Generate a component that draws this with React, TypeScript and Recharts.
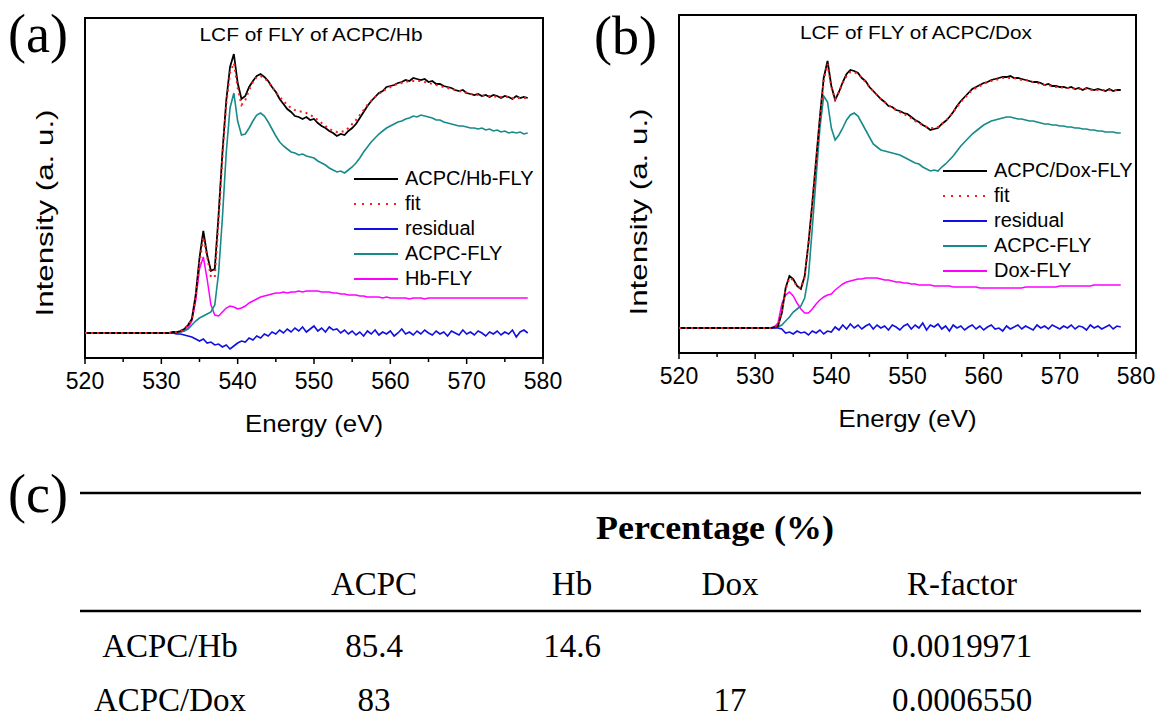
import React from "react";
import { LineChart, Line, XAxis, YAxis, ReferenceArea, Legend } from "recharts";

// photon energy grid (eV), shared by every trace
const energy = [
  520, 522, 524, 526, 528, 530,
  530.5, 531, 531.5, 532, 532.5, 533, 533.5, 534, 534.5, 535,
  535.5, 536, 536.5, 537, 537.5, 538, 538.5, 539, 539.5, 540,
  540.5, 541, 541.5, 542, 542.5, 543, 543.5, 544, 544.5, 545,
  545.5, 546, 546.5, 547, 547.5, 548, 548.5, 549, 549.5, 550,
  550.5, 551, 551.5, 552, 552.5, 553, 553.5, 554, 554.5, 555,
  555.5, 556, 556.5, 557, 557.5, 558, 558.5, 559, 559.5, 560,
  560.5, 561, 561.5, 562, 562.5, 563, 563.5, 564, 564.5, 565,
  565.5, 566, 566.5, 567, 567.5, 568, 568.5, 569, 569.5, 570,
  570.5, 571, 571.5, 572, 572.5, 573, 573.5, 574, 574.5, 575,
  575.5, 576, 576.5, 577, 577.5, 578,
];

// (a) ACPC/Hb
const hbExp = [
  0, 0, 0, 0, 0, 0,
  0, 0, 1, 1, 2, 4, 8, 14, 38, 75,
  102, 78, 62, 64, 118, 180, 232, 266, 279, 250,
  234, 237, 246, 252, 257, 259, 256, 252, 246, 241,
  234, 229, 224, 221, 217, 216, 214, 216, 213, 214,
  210, 207, 205, 202, 200, 197, 199, 198, 202, 205,
  209, 215, 221, 227, 232, 236, 240, 242, 246, 247,
  248, 250, 251, 253, 252, 255, 254, 253, 254, 251,
  252, 249, 249, 247, 246, 245, 243, 242, 243, 240,
  239, 238, 239, 237, 238, 236, 238, 237, 235, 237,
  236, 234, 237, 235, 236, 235,
];
const hbFit = [
  0, 0, 0, 0, 0, 0,
  0, 0, 1, 1, 2, 4, 8, 14, 36, 70,
  96, 76, 56, 56, 112, 176, 228, 260, 270, 245,
  228, 233, 243, 251, 256, 257, 255, 251, 246, 241,
  236, 232, 228, 225, 223, 222, 221, 220, 218, 216,
  213, 210, 207, 204, 202, 201, 201, 202, 205, 209,
  213, 218, 223, 228, 232, 236, 239, 242, 244, 246,
  248, 249, 250, 251, 252, 252, 252, 252, 251, 250,
  249, 248, 247, 246, 245, 244, 243, 242, 241, 240,
  239, 239, 238, 238, 237, 237, 237, 236, 236, 236,
  236, 235, 235, 235, 235, 235,
];
const hbResidual = [
  0, 0, 0, 0, 0, 0,
  0, 0, 0, -1, -1, -2, -3, -4, -6, -8,
  -6, -10, -9, -12, -11, -14, -12, -16, -13, -10,
  -8, -9, -5, -7, -3, -5, -1, -3, 1, -1,
  3, 0, 4, 1, 5, 2, 6, 1, 4, 7,
  2, 5, 1, 6, 3, 4, 0, 3, -1, 2,
  -2, 1, -3, 2, -1, 3, -2, 1, -1, 2,
  -3, 0, 4, -1, 1, -2, 2, -1, 3, 0,
  -2, 2, -1, 1, -3, 2, 0, -2, 3, -1,
  1, -2, 2, 0, -3, 1, -1, 2, -2, 1,
  -1, 3, -4, 1, 3, 0,
];
const hbAcpc = [
  0, 0, 0, 0, 0, 0,
  0, 0, 0, 0, 1, 2, 4, 8, 12, 15,
  17, 19, 21, 28, 60, 115, 180, 225, 240, 212,
  198, 199, 205, 212, 218, 220, 217, 211, 204, 197,
  191, 187, 184, 181, 180, 178, 179, 177, 176, 175,
  172, 170, 168, 165, 163, 161, 162, 160, 163, 166,
  170, 175, 181, 186, 191, 195, 199, 202, 205, 207,
  209, 211, 212, 214, 215, 217, 216, 218, 217, 216,
  215, 213, 213, 211, 210, 209, 208, 207, 207, 206,
  205, 205, 204, 205, 203, 204, 202, 203, 201, 202,
  200, 201, 200, 201, 199, 200,
];
const hbRef = [
  0, 0, 0, 0, 0, 0,
  0, 0, 0, 0, 1, 2, 5, 12, 32, 64,
  76, 54, 28, 18, 17, 21, 25, 27, 26, 24,
  25, 27, 30, 32, 34, 36, 37, 38, 39, 40,
  40, 41, 40, 41, 41, 42, 41, 42, 42, 42,
  42, 41, 41, 41, 40, 40, 39, 39, 38, 38,
  38, 37, 37, 36, 36, 36, 36, 35, 36, 35,
  35, 35, 35, 35, 34, 35, 35, 35, 34, 35,
  35, 35, 35, 35, 35, 35, 35, 35, 35, 35,
  35, 35, 35, 35, 35, 35, 35, 35, 35, 35,
  35, 35, 35, 35, 35, 35,
];

// (b) ACPC/Dox
const doxExp = [
  0, 0, 0, 0, 0, 0,
  0, 0, 0, 0, 1, 2, 15, 40, 52, 49,
  42, 39, 52, 85, 125, 168, 211, 250, 267, 242,
  228, 236, 246, 254, 258, 257, 255, 250, 247, 241,
  237, 233, 229, 226, 222, 221, 218, 217, 215, 214,
  211, 208, 206, 203, 201, 198, 199, 200, 204, 207,
  211, 216, 222, 227, 231, 235, 239, 241, 243, 245,
  246, 248, 249, 250, 251, 251, 252, 250, 250, 249,
  248, 247, 246, 246, 245, 243, 244, 242, 242, 241,
  241, 240, 241, 239, 240, 238, 240, 239, 238, 239,
  238, 237, 239, 237, 238, 238,
];
const doxFit = [
  0, 0, 0, 0, 0, 0,
  0, 0, 0, 0, 1, 3, 16, 39, 50, 48,
  41, 40, 51, 84, 124, 167, 210, 248, 264, 241,
  229, 236, 245, 252, 256, 256, 254, 250, 246, 241,
  237, 233, 229, 226, 223, 220, 218, 216, 214, 212,
  210, 207, 205, 203, 201, 200, 200, 201, 204, 207,
  211, 216, 221, 226, 230, 234, 238, 240, 242, 244,
  246, 247, 248, 249, 250, 250, 250, 250, 249, 248,
  248, 247, 246, 245, 244, 243, 243, 242, 241, 241,
  240, 240, 240, 239, 239, 239, 239, 238, 238, 238,
  238, 238, 238, 238, 238, 238,
];
const doxResidual = [
  0, 0, 0, 0, 0, 0,
  0, 0, 0, 0, 0, 0, -1, -5, -4, -6,
  -3, -5, -4, -7, -3, -5, -2, -6, -3, -4,
  1, -2, 3, -1, 4, 0, 3, -1, 2, 4,
  -1, 3, 0, 2, -2, 3, 1, -2, 2, 4,
  -1, 3, 0, 5, -2, 3, 1, 4, -1, 2,
  -3, 3, 0, 2, -2, 1, 3, -1, 2, -2,
  1, 3, -1, 0, -3, 2, -1, 1, 3, -1,
  2, 0, -2, 3, 0, 2, -1, 3, 1, -1,
  2, 0, 3, -1, 2, 1, -2, 3, 0, 2,
  -1, 1, 3, -1, 2, 1,
];
const doxAcpc = [
  0, 0, 0, 0, 0, 0,
  0, 0, 0, 0, 0, 1, 3, 7, 11, 16,
  19, 22, 30, 52, 100, 150, 200, 232, 226, 200,
  188, 193, 200, 208, 213, 215, 212, 205, 198, 191,
  184, 181, 178, 177, 176, 175, 174, 173, 171, 169,
  167, 165, 164, 161, 159, 157, 158, 157, 161, 164,
  168, 172, 177, 182, 186, 190, 194, 197, 200, 203,
  205, 207, 208, 209, 210, 211, 211, 210, 209, 209,
  208, 207, 207, 206, 205, 204, 204, 203, 203, 202,
  202, 201, 201, 200, 200, 199, 199, 198, 198, 197,
  197, 196, 196, 196, 195, 195,
];
const doxRef = [
  0, 0, 0, 0, 0, 0,
  0, 0, 0, 0, 1, 5, 24, 33, 36, 32,
  25, 19, 15, 15, 19, 24, 28, 31, 33, 34,
  38, 41, 44, 46, 47, 48, 49, 49, 50, 50,
  50, 50, 49, 48, 48, 47, 46, 46, 45, 45,
  44, 44, 43, 43, 43, 43, 42, 42, 42, 42,
  42, 41, 41, 41, 41, 41, 41, 41, 40, 40,
  40, 40, 40, 40, 40, 40, 40, 40, 40, 40,
  41, 41, 41, 41, 41, 41, 41, 41, 41, 42,
  42, 42, 42, 42, 42, 42, 42, 42, 43, 43,
  43, 43, 43, 43, 43, 43,
];

const xTicks = [520, 525, 530, 535, 540, 545, 550, 555, 560, 565, 570, 575, 580];

// (c) table
const tableHeader = ["", "ACPC", "Hb", "Dox", "R-factor"];
const tableRows = [
  ["ACPC/Hb", "85.4", "14.6", "", "0.0019971"],
  ["ACPC/Dox", "83", "", "17", "0.0006550"],
];

const SANS = "'Liberation Sans', Arial, sans-serif";
const SERIF = "'Liberation Serif', 'Times New Roman', serif";

const BLACK = "#000000";
const RED = "#ff1a1a";
const BLUE = "#1010e0";
const TEAL = "#178a8a";
const MAGENTA = "#ff00ff";

const hbRows = energy.map((e, i) => ({
  e, exp: hbExp[i], fit: hbFit[i], res: hbResidual[i], acpc: hbAcpc[i], ref: hbRef[i],
}));
const doxRows = energy.map((e, i) => ({
  e, exp: doxExp[i], fit: doxFit[i], res: doxResidual[i], acpc: doxAcpc[i], ref: doxRef[i],
}));

function EnergyTick(props: any) {
  const { x, y, payload } = props;
  const major = payload.value % 10 === 0;
  return (
    <g>
      <line x1={x} y1={y} x2={x} y2={y + (major ? 6 : 4)} stroke="#000" strokeWidth={1.5} />
      {major && (
        <text x={x} y={y + 31} textAnchor="middle" fontSize={23} fontFamily={SANS} fill="#000">
          {payload.value}
        </text>
      )}
    </g>
  );
}

function EnergyTitle(props: any) {
  const { x, y, width } = props.viewBox;
  return (
    <text x={x + width / 2} y={y + 74} textAnchor="middle" fontSize={24} fontFamily={SANS}
      textLength={138} lengthAdjust="spacingAndGlyphs" fill="#000">
      Energy (eV)
    </text>
  );
}

type LegendItem = { name: string; color: string; dash?: string };

function LegendList({ items }: { items: LegendItem[] }) {
  return (
    <div style={{ fontFamily: SANS, fontSize: 20, lineHeight: "25px", color: "#000" }}>
      {items.map((it) => (
        <div key={it.name} style={{ display: "flex", alignItems: "center", height: 25, whiteSpace: "nowrap" }}>
          <svg width={52} height={25} style={{ flex: "none" }}>
            <line x1={1} y1={13} x2={45} y2={13} stroke={it.color}
              strokeWidth={it.dash ? 2.2 : 1.8} strokeDasharray={it.dash} />
          </svg>
          <span>{it.name}</span>
        </div>
      ))}
    </div>
  );
}

function Spectrum({ rows, yMax, top, width, right, legendItems, legendPos }: any) {
  return (
    <LineChart width={width} height={440} data={rows}
      margin={{ top, right, bottom: 440 - top - (yMax + 25) - 60, left: 85 }}>
      <XAxis dataKey="e" type="number" domain={[520, 580]} ticks={xTicks} interval={0}
        tickSize={0} tickMargin={0} tick={<EnergyTick />} height={60} allowDataOverflow
        axisLine={{ stroke: "#000", strokeWidth: 2 }} label={<EnergyTitle />} />
      <YAxis hide type="number" domain={[-25, yMax]} allowDataOverflow />
      <Line type="linear" dataKey="ref" stroke={MAGENTA} strokeWidth={1.5} dot={false} isAnimationActive={false} />
      <Line type="linear" dataKey="acpc" stroke={TEAL} strokeWidth={1.6} dot={false} isAnimationActive={false} />
      <Line type="linear" dataKey="res" stroke={BLUE} strokeWidth={1.6} dot={false} isAnimationActive={false} />
      <Line type="linear" dataKey="exp" stroke={BLACK} strokeWidth={1.8} dot={false} isAnimationActive={false} />
      <Line type="linear" dataKey="fit" stroke={RED} strokeWidth={2} strokeDasharray="2 4" dot={false} isAnimationActive={false} />
      <ReferenceArea x1={520} x2={580} y1={-25} y2={yMax} fill="none" stroke="#000" strokeWidth={2} />
      <Legend layout="vertical" align="center" verticalAlign="middle"
        wrapperStyle={{ left: legendPos[0], top: legendPos[1], width: 210 }}
        content={() => <LegendList items={legendItems} />} />
    </LineChart>
  );
}

const hbLegend: LegendItem[] = [
  { name: "ACPC/Hb-FLY", color: BLACK },
  { name: "fit", color: RED, dash: "2 6" },
  { name: "residual", color: BLUE },
  { name: "ACPC-FLY", color: TEAL },
  { name: "Hb-FLY", color: MAGENTA },
];
const doxLegend: LegendItem[] = [
  { name: "ACPC/Dox-FLY", color: BLACK },
  { name: "fit", color: RED, dash: "2 6" },
  { name: "residual", color: BLUE },
  { name: "ACPC-FLY", color: TEAL },
  { name: "Dox-FLY", color: MAGENTA },
];

const colX = [170, 374, 572, 730, 962];

export default function App() {
  return (
    <div style={{ position: "absolute", left: 0, top: 0, width: 1159, height: 720, background: "#fff", overflow: "hidden" }}>
      <div style={{ position: "absolute", left: 0, top: 0 }}>
        <Spectrum rows={hbRows} yMax={315} top={18} width={580} right={37} legendItems={hbLegend} legendPos={[353, 166]} />
      </div>
      <div style={{ position: "absolute", left: 594, top: 0 }}>
        <Spectrum rows={doxRows} yMax={313} top={15} width={565} right={23} legendItems={doxLegend} legendPos={[348, 158]} />
      </div>
      <svg width={1159} height={720} style={{ position: "absolute", left: 0, top: 0, pointerEvents: "none" }}>
        <text x={8} y={52} fontSize={54} fontFamily={SERIF}>(a)</text>
        <text x={594} y={54} fontSize={54} fontFamily={SERIF}>(b)</text>
        <text x={311} y={41} textAnchor="middle" fontSize={18} fontFamily={SANS}
          textLength={223} lengthAdjust="spacingAndGlyphs">LCF of FLY of ACPC/Hb</text>
        <text x={916} y={39} textAnchor="middle" fontSize={18} fontFamily={SANS}
          textLength={232} lengthAdjust="spacingAndGlyphs">LCF of FLY of ACPC/Dox</text>
        <text transform="translate(53,213) rotate(-90)" textAnchor="middle" fontSize={24} fontFamily={SANS}
          textLength={207} lengthAdjust="spacingAndGlyphs">Intensity (a. u.)</text>
        <text transform="translate(647,212) rotate(-90)" textAnchor="middle" fontSize={24} fontFamily={SANS}
          textLength={207} lengthAdjust="spacingAndGlyphs">Intensity (a. u.)</text>

        <text x={8} y={512} fontSize={54} fontFamily={SERIF}>(c)</text>
        <line x1={80} y1={493} x2={1141} y2={493} stroke="#000" strokeWidth={2.5} />
        <text x={715} y={539} textAnchor="middle" fontSize={34} fontWeight="bold" fontFamily={SERIF}
          textLength={238} lengthAdjust="spacingAndGlyphs">
          Percentage (%)
        </text>
        {tableHeader.map((h, i) => (
          <text key={"h" + i} x={colX[i]} y={595} textAnchor="middle" fontSize={33} fontFamily={SERIF}>{h}</text>
        ))}
        <line x1={80} y1={611} x2={1141} y2={611} stroke="#000" strokeWidth={2.5} />
        {tableRows.map((row, r) =>
          row.map((cell, i) => (
            <text key={r + "-" + i} x={colX[i]} y={657 + r * 54} textAnchor="middle" fontSize={33} fontFamily={SERIF}>
              {cell}
            </text>
          ))
        )}
      </svg>
    </div>
  );
}
